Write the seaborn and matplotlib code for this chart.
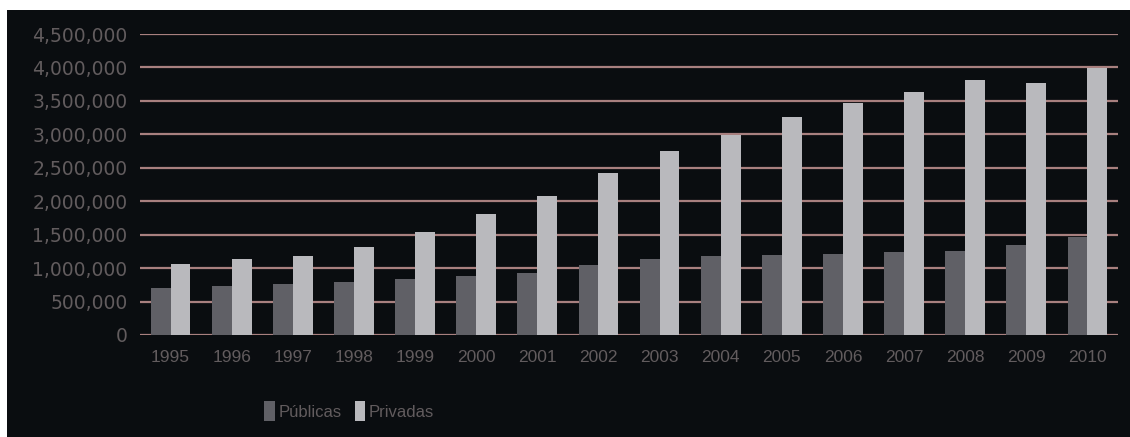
import matplotlib
matplotlib.use("Agg")
import matplotlib.pyplot as plt
import matplotlib.ticker as mticker
from matplotlib.patches import Rectangle
import seaborn as sns
import pandas as pd

years = ["1995", "1996", "1997", "1998", "1999", "2000", "2001", "2002",
         "2003", "2004", "2005", "2006", "2007", "2008", "2009", "2010"]
publicas = [703000, 733000, 762000, 797000, 832000, 882000, 931000, 1047000,
            1131000, 1181000, 1190000, 1206000, 1236000, 1261000, 1345000, 1470000]
privadas = [1057000, 1136000, 1181000, 1320000, 1545000, 1804000, 2083000, 2417000,
            2751000, 2990000, 3264000, 3473000, 3637000, 3812000, 3763000, 3996000]
series_names = ["Públicas", "Privadas"]
yticks = [0, 500000, 1000000, 1500000, 2000000, 2500000, 3000000, 3500000, 4000000, 4500000]

df = pd.DataFrame({
    "year": years * 2,
    "value": publicas + privadas,
    "serie": [series_names[0]] * len(years) + [series_names[1]] * len(years),
})

sns.set_theme(style="dark")
plt.rcParams["font.family"] = ["DejaVu Sans"]

BG = "#0a0d10"
TXT = "#625c5e"
GRID = "#a8807f"

fig = plt.figure(figsize=(11.3, 4.37), dpi=100, facecolor="white")
fig.patches.append(Rectangle((7 / 1130, 0), 1123 / 1130, 427 / 437,
                             transform=fig.transFigure, facecolor=BG,
                             edgecolor="none", zorder=-10))
ax = fig.add_axes([140 / 1130, 1 - 335 / 437, (1118 - 140) / 1130, (335 - 34) / 437])
ax.set_facecolor(BG)

sns.barplot(data=df, x="year", y="value", hue="serie", order=years,
            hue_order=series_names, palette=["#606066", "#b9b9bd"],
            width=0.65, gap=0.0, saturation=1, ax=ax, legend=True,
            edgecolor="none", linewidth=0)

ax.set_ylim(0, 4500000)
ax.set_xlim(-0.5, len(years) - 0.5)
ax.set_yticks(yticks)
ax.yaxis.set_major_formatter(mticker.FuncFormatter(lambda v, p: f"{int(v):,}"))
ax.set_axisbelow(True)
ax.yaxis.grid(True, color=GRID, linewidth=1.6)
ax.xaxis.grid(False)
for s in ax.spines.values():
    s.set_visible(False)
ax.set_xlabel("")
ax.set_ylabel("")
ax.tick_params(axis="y", length=0, pad=9, labelcolor=TXT, labelsize=13.5)
ax.tick_params(axis="x", length=0, pad=11, labelcolor=TXT, labelsize=12.5)
for lab in ax.get_xticklabels():
    lab.set_family(["Liberation Sans", "DejaVu Sans"])

handles, labels = ax.get_legend_handles_labels()
for h in handles:
    h.set_edgecolor("none")
    h.set_linewidth(0)
ax.legend(handles, labels, loc="center", bbox_to_anchor=(349 / 1130, 1 - 411 / 437),
          bbox_transform=fig.transFigure, ncol=2, frameon=False,
          handlelength=0.65, handleheight=1.4, handletextpad=0.2,
          columnspacing=0.8, labelcolor=TXT,
          prop={"family": ["Liberation Sans", "DejaVu Sans"], "size": 12})

fig.savefig("out.png", dpi=100, facecolor="white")
